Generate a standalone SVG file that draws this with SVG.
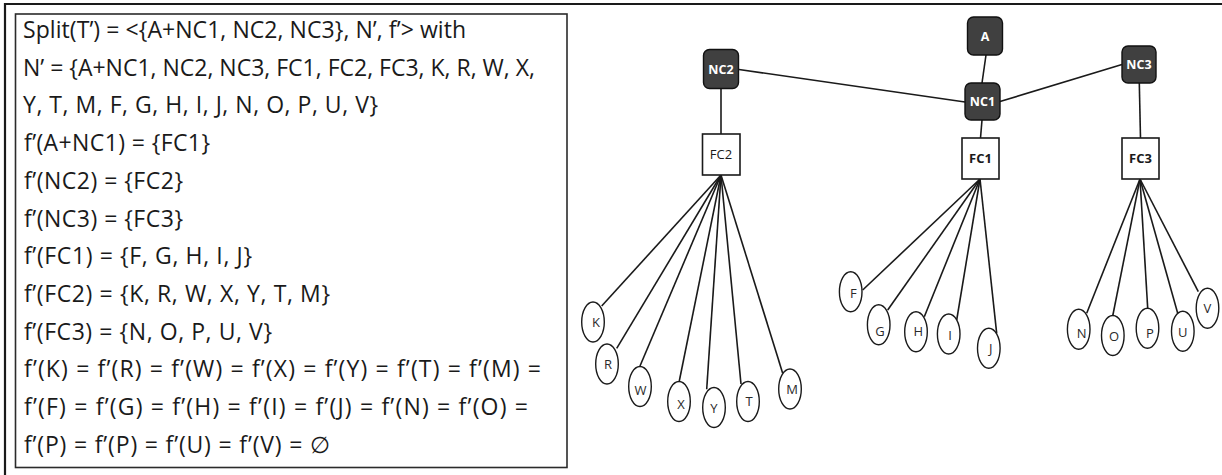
<svg xmlns="http://www.w3.org/2000/svg" width="1222" height="475" viewBox="0 0 1222 475">
  <style>
    .frame { fill: none; stroke: #1a1a1a; stroke-width: 2.2; }
    .box { fill: #ffffff; stroke: #2b2b2b; stroke-width: 1.6; }
    .def { font-family: "Open Sans", "Liberation Sans", sans-serif; font-size: 23px; fill: #1a1a1a; font-kerning: none; }
    .edge { stroke: #1a1a1a; stroke-width: 1.6; fill: none; }
    .dark { fill: #404040; stroke: #111111; stroke-width: 1.4; }
    .dlabel { font-family: "Open Sans", "Liberation Sans", sans-serif; font-size: 12.5px; font-weight: bold; fill: #ffffff; text-anchor: middle; }
    .fc { fill: #ffffff; stroke: #1a1a1a; stroke-width: 1.6; }
    .fclabel { font-family: "Open Sans", "Liberation Sans", sans-serif; font-size: 13px; fill: #1a1a1a; text-anchor: middle; }
    .leaf { fill: #ffffff; stroke: #1a1a1a; stroke-width: 1.4; }
    .llabel { font-family: "Open Sans", "Liberation Sans", sans-serif; font-size: 13px; fill: #2a2a2a; text-anchor: middle; }
  </style>

  <!-- outer frame: only top and left edges are visible -->
  <path class="frame" d="M5 475 V4 H1222"/>

  <!-- definition box -->
  <g id="definition">
    <rect class="box" x="15.5" y="14" width="551.5" height="453.5"/>
    <text class="def" x="23" y="38" textLength="443">Split(T’) = &lt;{A+NC1, NC2, NC3}, N’, f’&gt; with</text>
    <text class="def" x="23" y="75.7" textLength="512">N’ = {A+NC1, NC2, NC3, FC1, FC2, FC3, K, R, W, X,</text>
    <text class="def" x="23" y="113.4" textLength="355">Y, T, M, F, G, H, I, J, N, O, P, U, V}</text>
    <text class="def" x="24" y="151.1" textLength="186">f’(A+NC1) = {FC1}</text>
    <text class="def" x="24" y="188.8" textLength="159">f’(NC2) = {FC2}</text>
    <text class="def" x="24" y="226.5" textLength="159">f’(NC3) = {FC3}</text>
    <text class="def" x="24" y="264.2" textLength="228">f’(FC1) = {F, G, H, I, J}</text>
    <text class="def" x="24" y="301.9" textLength="306">f’(FC2) = {K, R, W, X, Y, T, M}</text>
    <text class="def" x="24" y="339.6" textLength="248">f’(FC3) = {N, O, P, U, V}</text>
    <text class="def" x="24" y="377.3" textLength="517">f’(K) = f’(R) = f’(W) = f’(X) = f’(Y) = f’(T) = f’(M) =</text>
    <text class="def" x="24" y="415" textLength="504">f’(F) = f’(G) = f’(H) = f’(I) = f’(J) = f’(N) = f’(O) =</text>
    <text class="def" x="24" y="452.7" textLength="306">f’(P) = f’(P) = f’(U) = f’(V) = ∅</text>
  </g>

  <!-- connectors -->
  <g id="connectors">
    <line class="edge" x1="986" y1="55" x2="982" y2="83"/>
    <line class="edge" x1="739" y1="69.5" x2="965" y2="102"/>
    <line class="edge" x1="1000" y1="101.5" x2="1122" y2="64.5"/>
    <line class="edge" x1="982" y1="120" x2="980.5" y2="138"/>
    <line class="edge" x1="721" y1="88" x2="721" y2="134"/>
    <line class="edge" x1="1139.3" y1="83" x2="1140.5" y2="138"/>
    <!-- FC2 fan -->
    <line class="edge" x1="721" y1="175" x2="601.7" y2="306"/>
    <line class="edge" x1="721" y1="175" x2="616.7" y2="348.3"/>
    <line class="edge" x1="721" y1="175" x2="640" y2="366"/>
    <line class="edge" x1="721" y1="175" x2="679.3" y2="381"/>
    <line class="edge" x1="721" y1="175" x2="706.7" y2="389.3"/>
    <line class="edge" x1="721" y1="175" x2="741" y2="384"/>
    <line class="edge" x1="721" y1="175" x2="782.7" y2="373.3"/>
    <!-- FC1 fan -->
    <line class="edge" x1="980" y1="179" x2="862.7" y2="290"/>
    <line class="edge" x1="980" y1="179" x2="887.7" y2="310"/>
    <line class="edge" x1="980" y1="179" x2="924.3" y2="316.7"/>
    <line class="edge" x1="980" y1="179" x2="956.7" y2="320"/>
    <line class="edge" x1="980" y1="179" x2="996.7" y2="333.3"/>
    <!-- FC3 fan -->
    <line class="edge" x1="1140" y1="179" x2="1086.7" y2="313.3"/>
    <line class="edge" x1="1140" y1="179" x2="1112.7" y2="316"/>
    <line class="edge" x1="1140" y1="179" x2="1147.7" y2="308.3"/>
    <line class="edge" x1="1140" y1="179" x2="1177.7" y2="313.3"/>
    <line class="edge" x1="1140" y1="179" x2="1198.3" y2="291.7"/>
  </g>

  <!-- grouping nodes -->
  <g id="node-A">
    <rect class="dark" x="967.5" y="17" width="35" height="38" rx="6"/>
    <text class="dlabel" x="985" y="40.5">A</text>
  </g>
  <g id="node-NC1">
    <rect class="dark" x="965" y="83" width="35" height="37" rx="6"/>
    <text class="dlabel" x="982.5" y="106">NC1</text>
  </g>
  <g id="node-NC2">
    <rect class="dark" x="703.5" y="49.5" width="35" height="39" rx="6"/>
    <text class="dlabel" x="721" y="74">NC2</text>
  </g>
  <g id="node-NC3">
    <rect class="dark" x="1122" y="46" width="34" height="37" rx="6"/>
    <text class="dlabel" x="1139" y="69">NC3</text>
  </g>

  <!-- FC nodes -->
  <g id="node-FC1">
    <rect class="fc" x="962" y="138" width="37" height="41"/>
    <text class="fclabel" x="980.5" y="163" font-weight="bold">FC1</text>
  </g>
  <g id="node-FC2">
    <rect class="fc" x="702.5" y="134" width="37.5" height="41"/>
    <text class="fclabel" x="721" y="159">FC2</text>
  </g>
  <g id="node-FC3">
    <rect class="fc" x="1122" y="138" width="37" height="41"/>
    <text class="fclabel" x="1140.5" y="163" font-weight="bold">FC3</text>
  </g>

  <!-- leaves under FC2 -->
  <g id="leaf-K"><ellipse class="leaf" cx="593" cy="322" rx="11.3" ry="20"/><text class="llabel" x="596" y="327">K</text></g>
  <g id="leaf-R"><ellipse class="leaf" cx="607" cy="364" rx="11.3" ry="20"/><text class="llabel" x="608" y="369">R</text></g>
  <g id="leaf-W"><ellipse class="leaf" cx="640" cy="386.5" rx="11.3" ry="20"/><text class="llabel" x="640.5" y="395">W</text></g>
  <g id="leaf-X"><ellipse class="leaf" cx="679" cy="401.5" rx="11.3" ry="20"/><text class="llabel" x="681" y="408.5">X</text></g>
  <g id="leaf-Y"><ellipse class="leaf" cx="714" cy="407.5" rx="11.3" ry="20"/><text class="llabel" x="714" y="413">Y</text></g>
  <g id="leaf-T"><ellipse class="leaf" cx="748" cy="401.5" rx="11.3" ry="20"/><text class="llabel" x="749" y="406">T</text></g>
  <g id="leaf-M"><ellipse class="leaf" cx="790" cy="389" rx="11.3" ry="20"/><text class="llabel" x="792" y="394">M</text></g>

  <!-- leaves under FC1 -->
  <g id="leaf-F"><ellipse class="leaf" cx="850.7" cy="291.7" rx="11.3" ry="20"/><text class="llabel" x="853.3" y="298">F</text></g>
  <g id="leaf-G"><ellipse class="leaf" cx="878.7" cy="324.7" rx="11.3" ry="20"/><text class="llabel" x="880" y="335.5">G</text></g>
  <g id="leaf-H"><ellipse class="leaf" cx="916" cy="331.7" rx="11.3" ry="20"/><text class="llabel" x="918.3" y="336">H</text></g>
  <g id="leaf-I"><ellipse class="leaf" cx="948.7" cy="334" rx="11.3" ry="20"/><text class="llabel" x="950" y="340">I</text></g>
  <g id="leaf-J"><ellipse class="leaf" cx="988.8" cy="348.3" rx="11.3" ry="20"/><text class="llabel" x="990.7" y="353.3">J</text></g>

  <!-- leaves under FC3 -->
  <g id="leaf-N"><ellipse class="leaf" cx="1078.7" cy="329.3" rx="11.3" ry="20"/><text class="llabel" x="1081.7" y="338.3">N</text></g>
  <g id="leaf-O"><ellipse class="leaf" cx="1112.8" cy="335.5" rx="11.3" ry="20"/><text class="llabel" x="1114" y="341">O</text></g>
  <g id="leaf-P"><ellipse class="leaf" cx="1147.5" cy="328.3" rx="11.3" ry="20"/><text class="llabel" x="1150" y="337.7">P</text></g>
  <g id="leaf-U"><ellipse class="leaf" cx="1182.8" cy="331.3" rx="11.3" ry="20"/><text class="llabel" x="1182.7" y="336.7">U</text></g>
  <g id="leaf-V"><ellipse class="leaf" cx="1207.5" cy="308.3" rx="11.3" ry="20"/><text class="llabel" x="1207.3" y="313.3">V</text></g>
</svg>
